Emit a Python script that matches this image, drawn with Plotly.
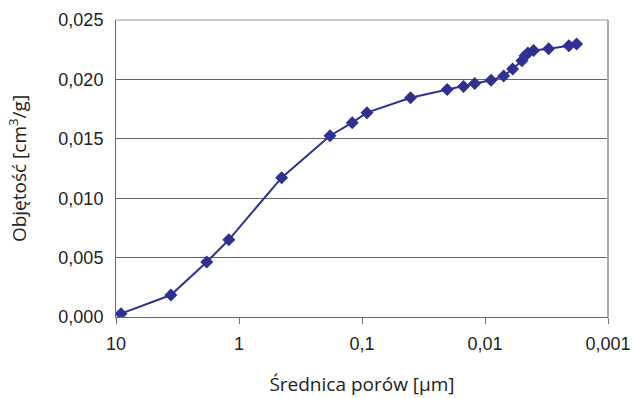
import plotly.graph_objects as go

diameter_um = [9.1, 3.58, 1.83, 1.21, 0.45, 0.182, 0.120, 0.0912, 0.0403, 0.0203,
               0.01496, 0.01213, 0.00893, 0.00705, 0.00596, 0.00501, 0.00473,
               0.00448, 0.00403, 0.00304, 0.00208, 0.0018]
volume_cm3g = [0.00028, 0.00185, 0.00463, 0.0065, 0.01173, 0.01526, 0.01636, 0.0172,
               0.01846, 0.01916, 0.01941, 0.01966, 0.01992, 0.02029, 0.02088,
               0.02158, 0.0220, 0.02222, 0.02244, 0.02258, 0.02284, 0.02298]

x_tickvals = [10, 1, 0.1, 0.01, 0.001]
x_ticktext = ["10", "1", "0,1", "0,01", "0,001"]

color = "#2E3192"

fig = go.Figure()
fig.add_trace(go.Scatter(
    x=diameter_um, y=volume_cm3g, mode="lines+markers",
    line=dict(color=color, width=2),
    marker=dict(symbol="diamond", size=10, color=color),
    showlegend=False,
))

tick_font = dict(family="Liberation Sans, Arial", size=18, color="#222")
title_font = dict(family="Open Sans", size=19, color="#222")

fig.update_layout(
    width=632, height=398,
    margin=dict(l=116, r=24, t=20, b=81, autoexpand=False),
    paper_bgcolor="white", plot_bgcolor="white",
    separators=", ",
    xaxis=dict(
        type="log", range=[1, -3], automargin=False,
        tickvals=x_tickvals, ticktext=x_ticktext,
        ticks="outside", ticklen=6, tickcolor="#777", tickwidth=1,
        ticklabelstandoff=4,
        showline=True, linecolor="#666", linewidth=1,
        showgrid=False, zeroline=False,
        tickfont=tick_font,
        title=dict(text="Średnica porów [µm]", font=title_font, standoff=25),
    ),
    yaxis=dict(
        range=[0, 0.025], dtick=0.005, tickformat=".3f", automargin=False,
        showline=True, linecolor="#666", linewidth=1,
        showgrid=True, gridcolor="#666", gridwidth=1,
        zeroline=False,
        ticks="outside", ticklen=8, tickcolor="rgba(0,0,0,0)",
        tickfont=tick_font,
        title=dict(text="Objętość [cm<sup>3</sup>/g]", font=title_font, standoff=26),
    ),
    shapes=[
        dict(type="line", xref="x domain", yref="y domain", x0=0, x1=1, y0=1, y1=1,
             line=dict(color="#999", width=1)),
        dict(type="line", xref="x domain", yref="y domain", x0=1, x1=1, y0=0, y1=1,
             line=dict(color="#aaa", width=2)),
    ],
)

fig.write_html("out.html")
